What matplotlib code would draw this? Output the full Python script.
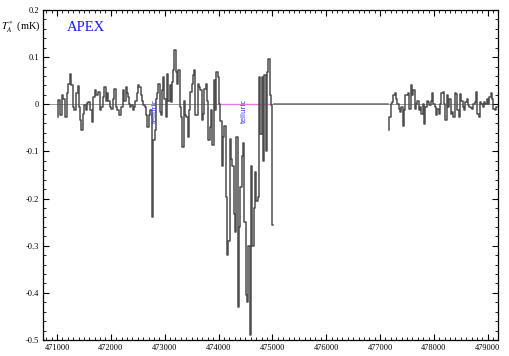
import numpy as np
import matplotlib
matplotlib.use("Agg")
import matplotlib.pyplot as plt
from matplotlib.ticker import MultipleLocator, FuncFormatter

plt.rcParams['font.family'] = ['Liberation Serif', 'DejaVu Serif']
plt.rcParams['mathtext.fontset'] = 'stix'

# ---- data: first band (frequency offsets from 471000, value in mK) ----
freq1_off = [13, 37, 74, 99, 136, 162, 199, 223, 247, 285, 311, 335, 372, 396, 422,
             446, 459, 497, 521, 545, 571, 595, 632, 657, 694, 720, 744, 781, 805, 831,
             869, 893, 917, 943, 967, 991, 1017, 1055, 1079, 1103, 1140, 1177, 1203, 1241, 1265,
             1283, 1308, 1326, 1345, 1371, 1395, 1419, 1445, 1469, 1494, 1520, 1544, 1568, 1594,
             1618, 1642, 1668, 1693, 1717, 1743, 1767, 1780, 1804, 1828, 1841, 1866, 1892, 1916,
             1929, 1953, 1977, 2003, 2027, 2052, 2078, 2102, 2126, 2152, 2171, 2189, 2213, 2238,
             2264, 2288, 2312, 2338, 2362, 2386, 2412, 2437, 2461, 2487, 2511, 2535,
             2548, 2572, 2598, 2623, 2647, 2673, 2697, 2721, 2747, 2771, 2796, 2822, 2846, 2870,
             2896, 2920, 2944, 2970, 2995, 3019, 3045, 3069, 3093, 3119, 3143, 3168, 3194, 3218,
             3242, 3268, 3292, 3316, 3342, 3367, 3391, 3417, 3441, 3465, 3491, 3515, 3540, 3566,
             3590, 3614, 3640, 3664, 3688, 3714, 3739, 3763, 3789, 3813, 3837, 3863, 3887, 3912,
             3938, 3962, 3986, 4012]
temp1 = [-0.027, 0.010, -0.023, 0.019, 0.012, -0.028, 0.023, 0.044, 0.064, 0.040, -0.006, -0.013,
         0.023, 0.038, -0.006, -0.034, -0.055, -0.020, -0.002, -0.013, 0.003, 0.005, -0.013, -0.038,
         0.016, 0.030, 0.019, 0.026, -0.013, -0.006, 0.016, 0.037, 0.008, 0.023, 0.008, -0.006,
         -0.011, 0.012, 0.033, -0.006, -0.013, -0.023, -0.006, 0.030, 0.008,
         0.037, 0.023, 0.016, 0.001, -0.006, -0.002, -0.013, -0.006, 0.008, 0.023, 0.040, 0.037,
         0.019, 0.008, -0.002, -0.006, -0.023, -0.048, -0.023, -0.013, -0.084, -0.239, -0.076,
         -0.055, 0.012, 0.023, 0.044, -0.016, -0.023, 0.030, 0.058, 0.012, -0.027, 0.065, 0.008,
         0.040, 0.005, 0.047, 0.072, 0.116, 0.069, 0.044, 0.072, -0.006, -0.027, -0.091, 0.008,
         -0.023, -0.027, -0.069, -0.013, 0.026, 0.044, 0.062,
         0.072, -0.023, -0.023, 0.044, 0.037, 0.030, -0.034, -0.020, 0.033, 0.044, 0.008, -0.076,
         -0.048, -0.013, -0.087, 0.051, -0.013, 0.069, 0.058, 0.001, -0.035, -0.130, -0.070,
         -0.045, -0.197, -0.320, -0.290, -0.073, -0.115, -0.130, -0.232, -0.270, -0.070, -0.430,
         -0.260, -0.175, -0.110, -0.083, -0.250, -0.405, -0.420, -0.300, -0.490, -0.130, -0.300,
         -0.220, -0.144, -0.205, -0.197, 0.058, -0.063, 0.058, -0.120, 0.062, -0.100, 0.069,
         0.097, 0.020, -0.002, -0.257]

# ---- second band: uniform channel grid ----
band2_start = 477157
band2_width = 24.8
temp2 = [-0.054, -0.027, 0.001, 0.005, 0.019, 0.024, 0.012, 0.001, -0.009, -0.016, -0.006,
         -0.045, -0.013, 0.019, 0.019, 0.023, -0.009, 0.040, 0.019, 0.030, -0.009, 0.001, 0.008,
         -0.013, -0.006, -0.020, 0.001, -0.041, -0.006, 0.008, 0.005, -0.002, 0.008, 0.023, 0.001,
         -0.006, -0.023, -0.009, -0.020, 0.001, 0.023, 0.026, 0.001, -0.034, 0.019, -0.006, 0.012,
         -0.020, -0.016, -0.027, 0.023, 0.021, -0.013, -0.027, 0.021, 0.008, -0.006, -0.013, 0.005,
         0.012, -0.002, -0.006, -0.007, -0.009, 0.001, 0.005, 0.026, -0.020, -0.027, 0.005, 0.001,
         -0.006, 0.005, 0.001, 0.012, 0.001, 0.016, 0.023, 0.012, -0.009, -0.013, -0.006]

gap_range = (475030, 477145)          # blanked region drawn flat at zero
telluric_range = (474045, 474962)     # magenta marked region
telluric_labels_x = [472823, 474479]
xlim = (470740, 479190)
ylim = (-0.5, 0.2)

freq1 = 471000 + np.array(freq1_off, dtype=float)
freq2 = band2_start + band2_width * np.arange(len(temp2))

fig = plt.figure(figsize=(5.09, 3.56), dpi=100)
ax = fig.add_axes([43/509, 16/356, 455/509, 330/356])

spec_col = '#4d4d4d'
ax.axhline(0, color='#8a8a8a', lw=0.6, zorder=1)
ax.plot(telluric_range, [0, 0], color='#e07be0', lw=1.0, zorder=2)
ax.step(freq1, temp1, where='mid', color=spec_col, lw=1.1, zorder=3)
ax.step(freq2, temp2, where='mid', color=spec_col, lw=1.1, zorder=3)
ax.plot(gap_range, [0, 0], color='#707070', lw=1.1, zorder=3)

for xl in telluric_labels_x:
    ax.text(xl, -0.013, 'telluric', rotation=90, color='#2f2fff', fontsize=5.0,
            family=['DejaVu Sans'], ha='center', va='center', zorder=6)

ax.text(0.053, 0.948, 'APEX', transform=ax.transAxes, color='#1a1aff', fontsize=10.5,
        ha='left', va='center')
ax.text(-0.006, 0.163, r'$T_A^*$ (mK)', transform=ax.get_yaxis_transform(),
        fontsize=7.5, ha='right', va='center')

ax.set_xlim(*xlim)
ax.set_ylim(*ylim)
ax.xaxis.set_major_locator(MultipleLocator(1000))
ax.xaxis.set_minor_locator(MultipleLocator(100))
ax.yaxis.set_major_locator(MultipleLocator(0.1))
ax.yaxis.set_minor_locator(MultipleLocator(0.02))
ax.xaxis.set_major_formatter(FuncFormatter(lambda v, p: '%d' % round(v)))
ax.yaxis.set_major_formatter(FuncFormatter(lambda v, p: '%g' % round(v, 2)))
ax.tick_params(which='both', direction='in', top=True, right=True, labelsize=6, pad=3)
ax.tick_params(which='major', length=4, width=0.8)
ax.tick_params(which='minor', length=2, width=0.6)
for s in ax.spines.values():
    s.set_linewidth(0.9)

fig.savefig('out.png', dpi=100)
